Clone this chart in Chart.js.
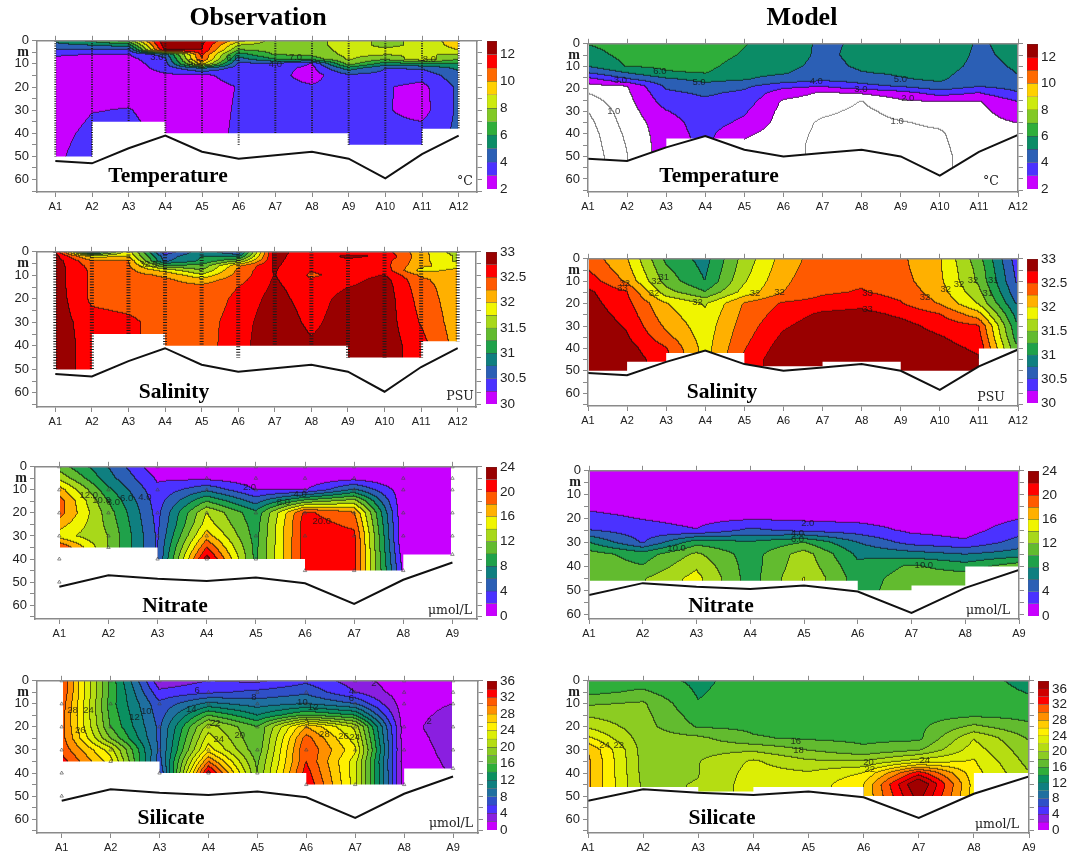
<!DOCTYPE html>
<html>
<head>
<meta charset="utf-8">
<title>Observation and Model sections</title>
<script src="https://cdn.jsdelivr.net/npm/chart.js@4"></script>
<style>
    html, body { margin: 0; padding: 0; background: #fff; }
    #page { position: relative; width: 1070px; height: 855px; overflow: hidden; }
    #page canvas { position: absolute; }
    .txt { position: absolute; transform: translate(-50%, -50%); white-space: nowrap; color: #000; z-index: 5; }
    .head { font: bold 26px "Liberation Serif"; }
    .name { font: bold 21.5px "Liberation Serif"; }
    .unit { font: 12.5px "DejaVu Serif"; color: #222; }
</style>
</head>
<body>
<div id="page"></div>
<script>
// ---- data ----
const stations12 = ['A1', 'A2', 'A3', 'A4', 'A5', 'A6', 'A7', 'A8', 'A9', 'A10', 'A11', 'A12']
const stations9  = ['A1', 'A2', 'A3', 'A4', 'A5', 'A6', 'A7', 'A8', 'A9']
const depthTicks = [0, 5, 10, 15, 20, 25, 30, 35, 40, 45, 50, 55, 60, 65]

const bottom12Obs   = [52, 53, 46.5, 41, 48, 51, 49.5, 48, 51, 59.5, 49, 41]
const bottom12Model = [51, 52, 46, 41, 47, 50, 48.5, 47, 50, 58.5, 48, 40.5]
const bottom9       = [52, 47, 48.5, 49.5, 48, 50.5, 59.5, 49, 41.5]

const casts12 = [50, 50, 35, 40, 40, 45, 40, 40, 45, 45, 45, 38]
const bottles9 = [
    [0, 10, 20, 30, 40, 50], [0, 10, 20, 30, 35], [0, 10, 20, 30, 40],
    [0, 5, 10, 20, 30, 40], [0, 5, 10, 20, 30, 40], [0, 5, 10, 20, 30, 45],
    [0, 5, 10, 20, 30, 45], [0, 5, 10, 20, 30, 45], [0, 5, 10, 20, 30, 38],
]

// floors: [station, depth] outline of the sampled area
const floor12Obs   = [[1, 50], [2, 50], [2, 35], [4, 35], [4, 40], [9, 40], [9, 45], [11, 45], [11, 38], [12, 38]]
const floor9Obs    = [[1, 35], [3, 35], [3, 40], [6, 40], [6, 45], [8, 45], [8, 38], [9, 38]]
const floorTempMod = [[3, 42], [5, 42]]
const floorSalMod  = [[1, 50], [2, 50], [2, 46], [3, 46], [3, 42], [5, 42], [5, 48], [7, 48], [7, 46], [9, 46], [9, 50], [11, 50], [11, 40], [12, 40]]
const floorNitMod  = [[1, 46], [6, 46], [6, 50], [7, 50], [7, 48], [8, 48], [8, 40], [9, 40]]
const floorSilMod  = [[1, 46], [3, 46], [3, 48], [4, 48], [4, 46], [6, 46], [6, 50], [8, 50], [8, 40], [9, 40]]

// temperature, observed (one profile per station)
const tempObsDepths = [0, 2, 4, 6, 8, 10, 12, 15, 20, 30, 40, 50]
const tempObsProfiles = [
    [5.2, 4.7, 4.0, 3.2, 2.7, 2.5, 2.4, 2.3, 2.3, 2.3, 2.6, 2.75],
    [6.3, 5, 3.9, 2.95, 2.7, 2.5, 2.4, 2.4, 2.4, 2.95, 3.3, 3.6],
    [7.5, 5.5, 3.8, 2.95, 2.7, 2.5, 2.4, 2.4, 2.5, 3.05, 3.3, 3.3],
    [12.8, 12.6, 12.2, 4.5, 3.8, 3.6, 3.4, 2.85, 2.7, 2.6, 2.7, 2.7],
    [12.3, 12.15, 12.02, 11.2, 11, 9.5, 5, 2.85, 2.7, 2.7, 2.7, 2.7],
    [9.5, 8, 7, 5.5, 4.6, 3.8, 3.5, 3.3, 3.03, 3.07, 3.11, 3.1],
    [7.5, 7.5, 7.4, 7.1, 6, 3.9, 3.4, 3.3, 3.3, 3.3, 3.3, 3.3],
    [7.6, 7.6, 7.5, 7.2, 6.5, 2.95, 2.7, 2.6, 3.1, 3.3, 3.3, 3.3],
    [8.5, 8.5, 8.4, 8.3, 8.1, 7.5, 5.5, 3.8, 3.4, 3.4, 3.4, 3.4],
    [7.7, 7.7, 8.2, 8.1, 7.2, 5.5, 4, 3.7, 3.1, 3.1, 3.3, 3.3],
    [8.3, 8.3, 8.4, 8, 8.7, 6, 4.1, 3.4, 2.7, 2.6, 3.4, 3.4],
    [9.6, 9.4, 9, 8, 7, 6, 5.2, 4.6, 4.2, 4.2, 4.2, 4.2],
]
const tempObsLabels = [[3.77, 7.2, '3.0'], [7, 10, '4.0'], [7.55, 7.2, '7.0'], [4.8, 9.5, '5.0'], [5.85, 7.5, '6.0'], [11.2, 8, '8.0']]

// salinity, observed
const salObsDepths = [0, 2, 4, 6, 8, 10, 12, 15, 20, 30, 40, 50]
const salObsProfiles = [
    [32.78, 32.85, 32.88, 32.88, 32.88, 32.88, 32.88, 32.88, 32.9, 32.9, 32.95, 32.95],
    [30.6, 31.9, 32.3, 32.4, 32.45, 32.45, 32.45, 32.45, 32.45, 32.6, 32.6, 32.6],
    [31.9, 32, 32.26, 32.3, 32.33, 32.35, 32.36, 32.38, 32.4, 32.55, 32.55, 32.5],
    [30.3, 30.6, 30.7, 31.3, 31.9, 32.2, 32.3, 32.35, 32.4, 32.4, 32.4, 32.4],
    [30.9, 31, 31.05, 31.3, 31.5, 31.8, 32.1, 32.32, 32.35, 32.4, 32.4, 32.4],
    [30.5, 30.9, 31.5, 32.2, 32.3, 32.35, 32.4, 32.5, 32.55, 32.6, 32.62, 32.62],
    [32.85, 32.82, 32.8, 32.78, 32.77, 32.76, 32.78, 32.8, 32.85, 32.95, 33, 33],
    [32.6, 32.6, 32.6, 32.58, 32.52, 32.46, 32.52, 32.6, 32.62, 32.68, 32.8, 32.85],
    [32.6, 32.8, 32.7, 32.62, 32.6, 32.6, 32.65, 32.74, 32.85, 32.9, 32.9, 32.9],
    [32.6, 32.72, 32.6, 32.6, 32.65, 32.76, 32.85, 32.88, 32.9, 32.9, 32.9, 32.9],
    [32.1, 32.1, 32.1, 32.05, 31.9, 32.2, 32.3, 32.35, 32.4, 32.48, 32.6, 32.6],
    [31.6, 31.7, 31.7, 31.9, 32.05, 32.1, 32.1, 32.1, 32.1, 32.12, 32.15, 32.15],
]
const salObsLabels = [[3.55, 5.5, '32.5']]

// nitrate, observed
const nitObsDepths = [0, 5, 10, 15, 20, 25, 30, 35, 40, 45]
const nitObsProfiles = [
    [11, 13.5, 17, 19, 19, 17, 15, 20, 20, 20],
    [6, 6.8, 8.5, 10, 11, 11.5, 12, 12, 12, 12],
    [0.5, 1.7, 2.5, 3, 3.3, 3.5, 3.7, 3.8, 3.8, 3.8],
    [0.5, 1.4, 5.5, 10, 14, 15, 17, 20, 23, 23],
    [0.3, 0.8, 1.9, 5.2, 8.5, 9, 9.2, 9.4, 9.4, 9.4],
    [0.3, 0.6, 1.8, 11, 20.5, 21, 21, 21, 21, 21],
    [0.4, 1.2, 6.3, 13, 18.2, 19.5, 20.6, 20.7, 20.7, 20.7],
    [0.1, 0.2, 0.8, 0.4, 0.2, 0.2, 0.2, 0.5, 1.2, 1.5],
    [0.1, 0.1, 0.1, 0.1, 0.1, 0.1, 0.1, 0.1, 0.1, 0.1],
]
const nitObsLabels = [[4.87, 8.9, '2.0'], [5.9, 12, '4.0'], [5.56, 15.6, '8.0'], [1.6, 12.5, '12.0'], [1.86, 14.6, '10.0'],
    [2.1, 15.6, '8.0'], [2.37, 13.9, '6.0'], [2.74, 13.2, '4.0'], [6.34, 23.8, '20.0']]

// silicate, observed
const silObsDepths = [0, 5, 10, 15, 20, 25, 30, 35, 40, 45]
const silObsProfiles = [
    [32, 32, 31.5, 31, 31, 31, 31.5, 33, 33, 33],
    [15.5, 15.5, 15, 15.5, 16, 18, 23, 25, 25, 25],
    [2.5, 4.5, 6.5, 7, 7.5, 7.5, 7.5, 7, 5.5, 5],
    [4, 5.5, 10.5, 16, 21, 23, 25, 30, 35, 35],
    [3.5, 6.5, 9, 12, 16, 16, 16.5, 17.5, 18, 18],
    [5.5, 7.5, 10, 16, 28, 31, 32, 32, 33, 34],
    [3, 4, 8, 14, 21.5, 23, 24.5, 23, 23, 23],
    [0.5, 0.8, 0.9, 0.9, 0.9, 0.8, 0.8, 0.8, 1, 1],
    [0.5, 1, 2, 2.8, 3.7, 3.1, 2.7, 2.4, 2.1, 2],
]
const silObsLabels = [[1.22, 12.8, '28'], [1.38, 21.4, '26'], [1.55, 12.8, '24'], [2.49, 15.7, '12'], [2.73, 13.2, '10'], [3.77, 4.3, '6'],
    [3.65, 12.5, '14'], [4.93, 7.1, '8'], [5.92, 9.5, '10'], [6.14, 11.4, '12'], [4.14, 18.5, '22'], [4.21, 25.2, '24'], [4.64, 23.8, '20'],
    [6.37, 23.2, '28'], [6.76, 24.2, '26'], [6.99, 24.6, '24'], [8.51, 17.8, '2'], [7.38, 1, '2'], [6.92, 7.8, '6'], [6.92, 4.7, '4']]

// temperature, model
const tempModDepths = [0, 5, 10, 13, 16, 19, 22, 26, 30, 35, 40, 45, 50]
const tempModProfiles = [
    [6.05, 5.6, 5.05, 4, 2.6, 1.65, 1, 0.5, 0, -0.3, -0.5, -0.6, -0.7],
    [6.4, 6.3, 6.05, 5, 3.8, 1.95, 1.8, 1.65, 1.55, 1.4, 1.2, 1.05, 0.95],
    [6.5, 6.45, 6.2, 5.9, 4.75, 4.15, 3.8, 3.4, 2.95, 2.6, 2.55, 2.55, 2.55],
    [6.6, 6.5, 6.3, 6.03, 5.3, 4.6, 4.15, 3.8, 3.6, 3.45, 3.3, 3.2, 3.2],
    [6.05, 5.9, 5.5, 5.3, 5.05, 4.2, 3.8, 3.5, 3.15, 2.8, 2.2, 1.8, 1.7],
    [5.55, 5.5, 5.3, 5.1, 4.6, 3.3, 2.4, 1.85, 1.7, 1.6, 1.5, 1.4, 1.4],
    [4.82, 4.8, 4.7, 4.5, 4.2, 3, 1.9, 1.55, 1.2, 0.85, 0.75, 0.7, 0.7],
    [5.15, 5.25, 5.15, 4.95, 4.4, 3.7, 2.1, 0.95, 0.8, 0.7, 0.65, 0.6, 0.6],
    [5.4, 5.35, 5.25, 5.15, 4.9, 4.05, 2.6, 1.75, 1.3, 0.95, 0.8, 0.75, 0.75],
    [5.6, 5.5, 5.4, 5.3, 5.15, 4.7, 3.4, 1.95, 1.5, 1.15, 0.9, 0.85, 0.8],
    [4.9, 4.85, 4.75, 4.55, 4.3, 4.03, 2.95, 1.9, 1.75, 1.65, 1.55, 1.45, 1.4],
    [5.25, 5.2, 5.1, 5.03, 4.85, 4.4, 3.9, 2.95, 2.55, 2.03, 1.7, 1.6, 1.6],
]
const tempModLabels = [[2.84, 12.4, '6.0'], [3.84, 17.3, '5.0'], [1.83, 16.4, '3.0'], [1.66, 30, '1.0'], [6.84, 16.6, '4.0'],
    [7.98, 20.3, '3.0'], [8.99, 15.7, '5.0'], [9.18, 24.4, '2.0'], [8.91, 34.6, '1.0']]

// salinity, model
const salModDepths = [0, 5, 10, 15, 20, 25, 30, 35, 40, 45, 50]
const salModProfiles = [
    [32.4, 32.5, 32.65, 32.8, 32.85, 32.9, 32.95, 33, 33, 33, 33],
    [32.02, 32.1, 32.2, 32.52, 32.58, 32.65, 32.72, 32.78, 32.85, 32.9, 32.9],
    [31.2, 31.3, 31.4, 31.6, 32.02, 32.1, 32.2, 32.33, 32.52, 32.6, 32.6],
    [30.9, 30.95, 31, 31.27, 31.72, 31.8, 31.85, 31.88, 31.9, 31.9, 31.9],
    [31.6, 31.65, 31.72, 31.85, 32.27, 32.32, 32.37, 32.42, 32.48, 32.55, 32.55],
    [32.1, 32.15, 32.2, 32.25, 32.53, 32.62, 32.71, 32.8, 32.88, 32.95, 32.95],
    [32.4, 32.42, 32.44, 32.46, 32.6, 32.8, 32.9, 32.95, 33, 33, 33],
    [32.42, 32.44, 32.46, 32.52, 32.66, 32.85, 32.93, 33, 33, 33, 33],
    [32.3, 32.32, 32.35, 32.42, 32.52, 32.7, 32.85, 32.93, 33, 33, 33],
    [32.03, 32.04, 32.06, 32.12, 32.23, 32.52, 32.65, 32.77, 32.85, 32.92, 32.95],
    [31.35, 31.42, 31.45, 31.57, 31.73, 32.1, 32.52, 32.6, 32.7, 32.78, 32.8],
    [30.35, 30.4, 30.45, 30.55, 30.7, 30.87, 31, 31.1, 31.25, 31.3, 31.3],
]
const salModLabels = [[1.94, 11, '32'], [1.88, 13, '33'], [2.94, 8.2, '31'], [2.75, 9.9, '32'], [2.69, 15.3, '32'], [3.8, 19.4, '32'],
    [5.27, 15.3, '32'], [5.9, 15, '32'], [8.15, 15.4, '33'], [8.15, 22.7, '33'], [9.62, 17.2, '32'], [10.15, 13.8, '32'],
    [10.49, 11.4, '32'], [10.85, 9.5, '32'], [11.37, 9.5, '31'], [11.23, 15.4, '31']]

// nitrate, model
const nitModDepths = [0, 10, 20, 25, 30, 35, 40, 45, 50]
const nitModProfiles = [
    [0.3, 0.6, 2.6, 4.1, 8, 10.9, 11.2, 11.4, 11.4],
    [0.3, 0.6, 1.9, 2.9, 3.8, 9, 10.1, 11.8, 12],
    [0.3, 0.6, 1.3, 2.1, 9.2, 12.4, 13.7, 14.7, 14.7],
    [0.3, 0.6, 1.7, 4.5, 8.2, 9, 9, 9, 9],
    [0.3, 0.6, 1.6, 3.4, 10, 13, 13.4, 14.1, 14],
    [0.2, 0.5, 1.4, 3, 6, 7.6, 8.5, 9, 9],
    [0.2, 0.4, 1, 1.6, 3.2, 6.9, 10.3, 11, 11.4],
    [0.1, 0.3, 0.8, 1.2, 2.3, 6, 8.9, 11.2, 11.2],
    [0.1, 0.5, 1.9, 3.2, 4.8, 7, 11.2, 12, 12],
]
const nitModLabels = [[5.07, 22, '2.0'], [4.88, 26.2, '4.0'], [4.88, 28.5, '6.0'], [2.63, 32.5, '10.0'], [7.23, 39.7, '10.0']]

// silicate, model
const silModDepths = [0, 5, 10, 15, 20, 25, 30, 35, 40, 45, 50]
const silModProfiles = [
    [15, 15.4, 17.7, 19.7, 21.7, 24.5, 28, 28.5, 28.5, 28.5, 28.5],
    [14.9, 16.4, 18.3, 18.6, 18.8, 19, 19.2, 19.3, 19.4, 19.6, 19.6],
    [13.6, 13.8, 14.1, 15, 15.8, 18.5, 19.3, 19.9, 19.9, 20.1, 20.1],
    [14.8, 15, 15.2, 15.4, 15.6, 16.2, 19.6, 22.3, 22.8, 23, 23],
    [14.9, 15, 15.1, 15.2, 15.4, 15.7, 17.9, 20.3, 22.2, 22.5, 22.5],
    [14.9, 15, 15, 15.1, 15.2, 15.5, 16.4, 20.1, 24, 26, 26],
    [14.9, 15, 15, 15.1, 15.5, 15.5, 17.7, 23, 33, 38.5, 37],
    [14.9, 15, 15, 15.6, 18.5, 21.9, 23, 24.2, 24.8, 25.2, 25.2],
    [13.3, 13.9, 14.5, 15.4, 16.4, 17.8, 18.6, 19.3, 20.1, 20.3, 20.3],
]
const silModLabels = [[4.77, 26.4, '16'], [4.82, 30.3, '18'], [6.09, 35.2, '20'], [6.11, 38.2, '22'], [7.11, 34.6, '24'], [1.3, 28.2, '24'], [1.56, 28, '22']]

// colour bars
const tempTicks = [2, 4, 6, 8, 10, 12]
const salTicks  = [30, 30.5, 31, 31.5, 32, 32.5, 33]
const nitTicks  = [0, 4, 8, 12, 16, 20, 24]
const silTicks  = [0, 4, 8, 12, 16, 20, 24, 28, 32, 36]

// ---- styles ----
const tempColors = ['#c800ff', '#4b32ff', '#2b5fb5', '#0b8c66', '#2fae3a', '#82c926', '#cdea0e', '#ffd000', '#ff6a00', '#ff0000', '#990000']
const salColors  = ['#c800ff', '#4b32ff', '#2b5fb5', '#0f7f80', '#1fa14a', '#62bb2f', '#a8d81a', '#f0f500', '#ffb000', '#ff5a00', '#ff0000', '#990000']
const silColors  = ['#c800ff', '#8a1fe0', '#4b32ff', '#2f50c8', '#1f6fa0', '#0f7f80', '#0a9060', '#2fae3a', '#62bb2f', '#8ccc22', '#b5dd12',
                    '#dcee05', '#fff000', '#ffcc00', '#ff9000', '#ff5a00', '#ff0000', '#a00000']
const silModColors = silColors.slice(0, 16).concat(['#ff0000', '#d00000', '#a00000'])

const AXIS = '#8a8a8a'
const page = document.getElementById('page')

Chart.defaults.animation = false
Chart.defaults.responsive = false
Chart.defaults.devicePixelRatio = 1

function addCanvas(x, y, w, h) {
    const c = document.createElement('canvas')
    c.width = w
    c.height = h
    c.style.left = x + 'px'
    c.style.top = y + 'px'
    c.style.width = w + 'px'
    c.style.height = h + 'px'
    page.appendChild(c)
    return c
}

function addText(cls, text, x, y) {
    const d = document.createElement('div')
    d.className = 'txt ' + cls
    d.textContent = text
    d.style.left = x + 'px'
    d.style.top = y + 'px'
    page.appendChild(d)
}

// paints the gridded values as filled contour bands, going through the chart's scales
function contourPlugin(p) {
    return {
        id: 'contourFill',
        beforeDatasetsDraw(chart) {
            const a = chart.chartArea
            const w = Math.round(a.right - a.left), h = Math.round(a.bottom - a.top)
            const sx = chart.scales.x, sy = chart.scales.y
            const cols = p.profiles.map((_, i) => i + 1), deps = p.depths
            const grid = chart.data.datasets.find(d => d.label === 'grid').data
            const nd = deps.length
            const at = (c, r) => grid[c * nd + r].v
            const xv = [], yv = []
            for (let i = 0; i < w; i++) xv.push(sx.getValueForPixel(a.left + i + 0.5))
            for (let j = 0; j < h; j++) yv.push(sy.getValueForPixel(a.top + j + 0.5))
            // keep a hair off the outer stations so nothing shows past the white floor
            const pixelX = Math.abs(xv[1] - xv[0])
            const xFrom = cols[0] + pixelX, xTo = cols[cols.length - 1] - pixelX

            const NONE = -999
            const band = new Int32Array(w * h).fill(NONE)
            for (let j = 0; j < h; j++) {
                let r = 0
                while (r < nd - 2 && yv[j] > deps[r + 1]) r++
                const ty = Math.min(1, Math.max(0, (yv[j] - deps[r]) / (deps[r + 1] - deps[r])))
                for (let i = 0; i < w; i++) {
                    if (xv[i] < xFrom || xv[i] > xTo) continue
                    const c = Math.min(cols.length - 2, Math.floor(xv[i] - cols[0]))
                    const tx = xv[i] - cols[c]
                    const v = (1 - tx) * ((1 - ty) * at(c, r) + ty * at(c, r + 1)) + tx * ((1 - ty) * at(c + 1, r) + ty * at(c + 1, r + 1))
                    band[j * w + i] = Math.min(p.colors.length - 1, Math.floor((v - p.min) / p.step + 1e-6))
                }
            }

            const rgb = p.colors.map(s => [parseInt(s.slice(1, 3), 16), parseInt(s.slice(3, 5), 16), parseInt(s.slice(5, 7), 16)])
            const off = document.createElement('canvas')
            off.width = w
            off.height = h
            const oc = off.getContext('2d')
            const img = oc.createImageData(w, h)
            for (let j = 0; j < h; j++) {
                for (let i = 0; i < w; i++) {
                    const b = band[j * w + i], k = (j * w + i) * 4
                    if (b === NONE) continue
                    let col = b < 0 ? [255, 255, 255] : rgb[b]
                    const right = i + 1 < w ? band[j * w + i + 1] : b
                    const down = j + 1 < h ? band[(j + 1) * w + i] : b
                    const edge = (right !== b && right !== NONE) || (down !== b && down !== NONE)
                    if (edge) {
                        const lo = Math.min(b, right === NONE ? b : right, down === NONE ? b : down)
                        const hi = Math.max(b, right === NONE ? b : right, down === NONE ? b : down)
                        // contours inside the white zone come out grey
                        const m = hi < 0 ? 0.5 : (lo < -1 ? 0.5 : 0.66)
                        col = [col[0] * (1 - m) + 15 * m, col[1] * (1 - m) + 15 * m, col[2] * (1 - m) + 15 * m]
                    }
                    img.data[k] = col[0]
                    img.data[k + 1] = col[1]
                    img.data[k + 2] = col[2]
                    img.data[k + 3] = 255
                }
            }
            oc.putImageData(img, 0, 0)
            const ctx = chart.ctx
            ctx.save()
            ctx.beginPath()
            ctx.rect(a.left, a.top, w, h)
            ctx.clip()
            ctx.filter = 'blur(0.45px)'
            ctx.drawImage(off, a.left, a.top)
            ctx.restore()
        },
        afterDatasetsDraw(chart) {
            const ctx = chart.ctx
            ctx.save()
            ctx.font = '9.5px "Liberation Sans"'
            ctx.fillStyle = 'rgba(20,20,20,0.8)'
            ctx.textAlign = 'center'
            ctx.textBaseline = 'middle'
            p.labels.forEach(([x, y, t]) => {
                ctx.fillText(t, chart.scales.x.getPixelForValue(x), chart.scales.y.getPixelForValue(y))
            })
            ctx.restore()
        },
    }
}

function axisBase() {
    return {
        type: 'linear',
        border: { display: true, color: AXIS, width: 1.5, z: 1 },
        grid: { drawOnChartArea: false, drawTicks: true, color: AXIS, lineWidth: 1, tickLength: 5 },
    }
}

function drawPanel(p) {
    const f = p.frame
    const mL = 40, mR = 14, mT = 8, mB = 26
    const W = f.right - f.left, H = f.bottom - f.top
    const canvas = addCanvas(f.left - mL, f.top - mT, W + mL + mR, H + mT + mB)
    const names = p.stations
    // every axis gets its own tick objects: the labels are written onto them
    const xTicks = () => names.map((_, i) => ({ value: i + 1 }))
    const yTicks = () => depthTicks.filter(d => d <= p.yMax).map(d => ({ value: d }))

    const grid = p.profiles.flatMap((prof, c) => prof.map((v, r) => ({ x: c + 1, y: p.depths[r], v: v })))
    const datasets = [
        { label: 'grid', data: grid, showLine: false, pointRadius: 0, order: 9 },
        {
            label: 'floor', data: p.floor.map(([x, y]) => ({ x, y })), showLine: true, pointRadius: 0, borderWidth: 0,
            borderColor: 'rgba(255,255,255,0)', backgroundColor: '#fff', fill: { value: p.yMax }, order: 5,
        },
        {
            label: 'bottom', data: p.bottom.map((y, i) => ({ x: i + 1, y })), showLine: true, pointRadius: 0, borderWidth: 2,
            borderColor: '#111', backgroundColor: '#fff', fill: { value: p.yMax }, order: 4,
        },
    ]
    if (p.casts) {
        p.casts.forEach((d, i) => datasets.push({
            label: 'cast', data: [{ x: i + 1, y: 0 }, { x: i + 1, y: d }], showLine: true, pointRadius: 0,
            borderColor: '#1a1a1a', borderWidth: p.castWidth, borderDash: [1, p.castGap], order: 2,
        }))
    }
    if (p.bottles) {
        datasets.push({
            label: 'bottles', data: p.bottles.flatMap((ds, i) => ds.map(d => ({ x: i + 1, y: d }))), showLine: false,
            pointStyle: 'triangle', pointRadius: 2, borderWidth: 0.6, borderColor: '#444', backgroundColor: 'rgba(0,0,0,0)', order: 1,
        })
    }

    new Chart(canvas, {
        type: 'scatter',
        data: { datasets },
        plugins: [contourPlugin(p)],
        options: {
            layout: { padding: 0 },
            plugins: { legend: { display: false }, tooltip: { enabled: false }, title: { display: false } },
            scales: {
                x: {
                    ...axisBase(), position: 'bottom', min: p.xMin, max: p.xMax,
                    afterBuildTicks: s => { s.ticks = xTicks() },
                    afterFit: s => { s.height = mB },
                    ticks: {
                        autoSkip: false, maxRotation: 0, padding: 3, color: '#222',
                        font: { family: 'Liberation Sans', size: 11 },
                        callback: v => names[v - 1],
                    },
                },
                x2: {
                    ...axisBase(), position: 'top', min: p.xMin, max: p.xMax,
                    afterBuildTicks: s => { s.ticks = xTicks() },
                    afterFit: s => { s.height = mT },
                    ticks: { display: false },
                },
                y: {
                    ...axisBase(), position: 'left', reverse: true, min: 0, max: p.yMax,
                    afterBuildTicks: s => { s.ticks = yTicks() },
                    afterFit: s => { s.width = mL },
                    ticks: {
                        autoSkip: false, padding: 3, color: '#222',
                        font: c => (c.tick && c.tick.value === 5)
                            ? { family: 'Liberation Serif', weight: 'bold', size: 14 }
                            : { family: 'Liberation Sans', size: 13 },
                        callback: v => (v === 5 ? 'm' : (v % 10 === 0 ? String(v) : '')),
                    },
                },
                y2: {
                    ...axisBase(), position: 'right', reverse: true, min: 0, max: p.yMax,
                    afterBuildTicks: s => { s.ticks = yTicks() },
                    afterFit: s => { s.width = mR },
                    ticks: { display: false },
                },
            },
        },
    })

    addText('name', p.title, p.titleX, p.titleY)
    addText('unit', p.unit, p.unitX, p.unitY)
    drawColorBar(p)
}

function drawColorBar(p) {
    const b = p.bar
    const pad = 8, labelW = 44
    const canvas = addCanvas(b.left, p.frame.top - pad, b.right - b.left + labelW, p.frame.bottom - p.frame.top + pad * 2)
    const top = p.min + p.step * p.colors.length
    new Chart(canvas, {
        type: 'bar',
        data: {
            labels: [p.title],
            datasets: p.colors.map((c, i) => ({
                data: [[p.min + i * p.step, p.min + (i + 1) * p.step]],
                backgroundColor: c, borderColor: '#444', borderWidth: 0.5,
                barPercentage: 1, categoryPercentage: 1, grouped: false,
            })),
        },
        options: {
            layout: { padding: { top: pad, bottom: pad } },
            plugins: { legend: { display: false }, tooltip: { enabled: false } },
            scales: {
                x: { display: false },
                y: {
                    type: 'linear', position: 'right', min: p.min, max: top,
                    afterBuildTicks: s => { s.ticks = p.barTicks.map(v => ({ value: v })) },
                    afterFit: s => { s.width = labelW },
                    border: { display: false },
                    grid: { display: false, drawTicks: false },
                    ticks: { autoSkip: false, padding: 3, color: '#222', font: { family: 'Liberation Sans', size: 13.5 }, callback: v => String(v) },
                },
            },
        },
    })
}

addText('head', 'Observation', 258, 17)
addText('head', 'Model', 802, 17)

const tempScale = { min: 2, step: 1, colors: tempColors, barTicks: tempTicks }
const salScale  = { min: 30, step: 0.25, colors: salColors, barTicks: salTicks }
const nitScale  = { min: 0, step: 2, colors: salColors, barTicks: nitTicks }
const silScale  = { min: 0, step: 2, colors: silColors, barTicks: silTicks }

// left column
drawPanel({
    ...tempScale, stations: stations12, profiles: tempObsProfiles, depths: tempObsDepths, labels: tempObsLabels,
    bottom: bottom12Obs, floor: floor12Obs, casts: casts12, castWidth: 2, castGap: 1.4,
    frame: { left: 37, right: 477, top: 38, bottom: 192 }, xMin: 0.5, xMax: 12.5, yMax: 65.4,
    bar: { left: 487, right: 497 }, title: 'Temperature', titleX: 168, titleY: 175, unit: '°C', unitX: 465, unitY: 180,
})
drawPanel({
    ...salScale, stations: stations12, profiles: salObsProfiles, depths: salObsDepths, labels: salObsLabels,
    bottom: bottom12Obs, floor: floor12Obs, casts: casts12, castWidth: 4, castGap: 1.7,
    frame: { left: 37, right: 476, top: 249, bottom: 407 }, xMin: 0.5, xMax: 12.5, yMax: 66,
    bar: { left: 486, right: 497 }, title: 'Salinity', titleX: 174, titleY: 391, unit: 'PSU', unitX: 460, unitY: 395,
})
drawPanel({
    ...nitScale, stations: stations9, profiles: nitObsProfiles, depths: nitObsDepths, labels: nitObsLabels,
    bottom: bottom9, floor: floor9Obs, bottles: bottles9,
    frame: { left: 35, right: 477, top: 464, bottom: 619 }, xMin: 0.505, xMax: 9.5, yMax: 66,
    bar: { left: 486, right: 497 }, title: 'Nitrate', titleX: 175, titleY: 605, unit: 'μmol/L', unitX: 450, unitY: 609,
})
drawPanel({
    ...silScale, stations: stations9, profiles: silObsProfiles, depths: silObsDepths, labels: silObsLabels,
    bottom: bottom9, floor: floor9Obs, bottles: bottles9,
    frame: { left: 37, right: 478, top: 678, bottom: 833 }, xMin: 0.495, xMax: 9.51, yMax: 66,
    bar: { left: 487, right: 497 }, title: 'Silicate', titleX: 171, titleY: 817, unit: 'μmol/L', unitX: 451, unitY: 822,
})

// right column
drawPanel({
    ...tempScale, stations: stations12, profiles: tempModProfiles, depths: tempModDepths, labels: tempModLabels,
    bottom: bottom12Model, floor: floorTempMod,
    frame: { left: 588, right: 1018, top: 41, bottom: 192 }, xMin: 1, xMax: 12, yMax: 65.8,
    bar: { left: 1027, right: 1038 }, title: 'Temperature', titleX: 719, titleY: 175, unit: '°C', unitX: 991, unitY: 180,
})
drawPanel({
    ...salScale, stations: stations12, profiles: salModProfiles, depths: salModDepths, labels: salModLabels,
    bottom: bottom12Model, floor: floorSalMod,
    frame: { left: 588, right: 1018, top: 256, bottom: 406 }, xMin: 1, xMax: 12, yMax: 65.7,
    bar: { left: 1027, right: 1038 }, title: 'Salinity', titleX: 722, titleY: 391, unit: 'PSU', unitX: 991, unitY: 396,
})
drawPanel({
    ...nitScale, stations: stations9, profiles: nitModProfiles, depths: nitModDepths, labels: nitModLabels,
    bottom: bottom9, floor: floorNitMod,
    frame: { left: 589, right: 1019, top: 468, bottom: 619 }, xMin: 1, xMax: 9, yMax: 62,
    bar: { left: 1028, right: 1039 }, title: 'Nitrate', titleX: 721, titleY: 605, unit: 'μmol/L', unitX: 988, unitY: 609,
})
drawPanel({
    ...silScale, colors: silModColors, stations: stations9, profiles: silModProfiles, depths: silModDepths, labels: silModLabels,
    bottom: bottom9, floor: floorSilMod,
    frame: { left: 588, right: 1029, top: 678, bottom: 833 }, xMin: 1, xMax: 9, yMax: 66,
    bar: { left: 1038, right: 1049 }, title: 'Silicate', titleX: 722, titleY: 817, unit: 'μmol/L', unitX: 997, unitY: 823,
})
</script>
</body>
</html>
